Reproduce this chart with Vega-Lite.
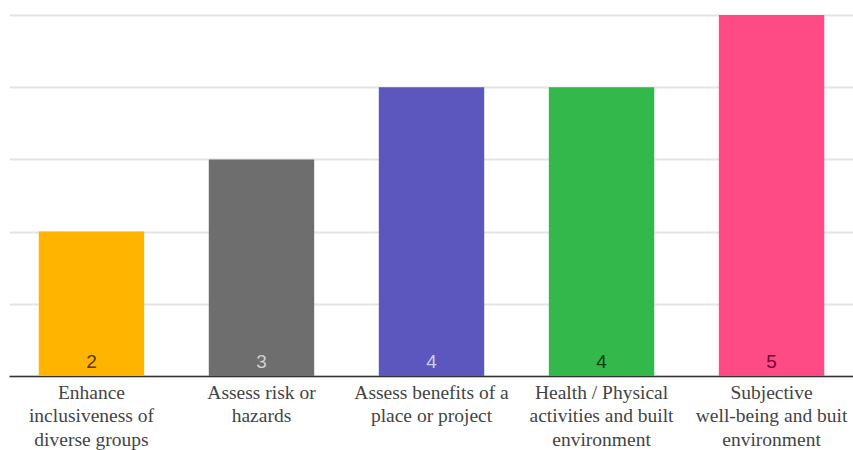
{
  "$schema": "https://vega.github.io/schema/vega-lite/v6.json",
  "autosize": {"type": "none"},
  "width": 845,
  "height": 361,
  "padding": {"left": 9, "top": 15, "right": 0, "bottom": 74},
  "background": "white",
  "config": {"view": {"stroke": null}},
  "data": {"values": [
    {"category": "Enhance\ninclusiveness of\ndiverse groups", "count": 2},
    {"category": "Assess risk or\nhazards", "count": 3},
    {"category": "Assess benefits of a\nplace or project", "count": 4},
    {"category": "Health / Physical\nactivities and built\nenvironment", "count": 4},
    {"category": "Subjective\nwell-being and buit\nenvironment", "count": 5}
  ]},
  "encoding": {
    "x": {
      "field": "category", "type": "nominal", "sort": null,
      "scale": {"paddingInner": 0.38, "paddingOuter": 0.175},
      "axis": {
        "title": null, "labelAngle": 0, "labelExpr": "split(datum.label, '\\n')",
        "labelFont": "Liberation Serif", "labelFontSize": 19.5, "labelColor": "#444",
        "labelLineHeight": 23.5, "labelPadding": 7, "ticks": false,
        "domainColor": "#333", "domainWidth": 1.5, "labelLimit": 220
      }
    }
  },
  "layer": [
    {
      "mark": {"type": "bar"},
      "encoding": {
        "y": {"field": "count", "type": "quantitative", "scale": {"domain": [0, 5]},
          "axis": {"title": null, "labels": false, "ticks": false, "domain": false,
            "tickCount": 5, "gridColor": "#e4e4e4", "gridWidth": 2}},
        "color": {"field": "category", "type": "nominal", "sort": null, "legend": null,
          "scale": {"range": ["#FFB400", "#6E6E6E", "#5B57BE", "#33B84B", "#FF4B85"]}}
      }
    },
    {
      "mark": {"type": "text", "font": "Liberation Sans", "fontSize": 19, "baseline": "bottom", "dy": -4},
      "encoding": {
        "y": {"datum": 0, "type": "quantitative"},
        "text": {"field": "count", "type": "quantitative"},
        "color": {"field": "category", "type": "nominal", "sort": null, "legend": null,
          "scale": {"range": ["#5a3a00", "#d0d0d0", "#d0d0ee", "#0b3d12", "#7a0035"]}}
      }
    }
  ],
  "resolve": {"scale": {"color": "independent"}}
}
